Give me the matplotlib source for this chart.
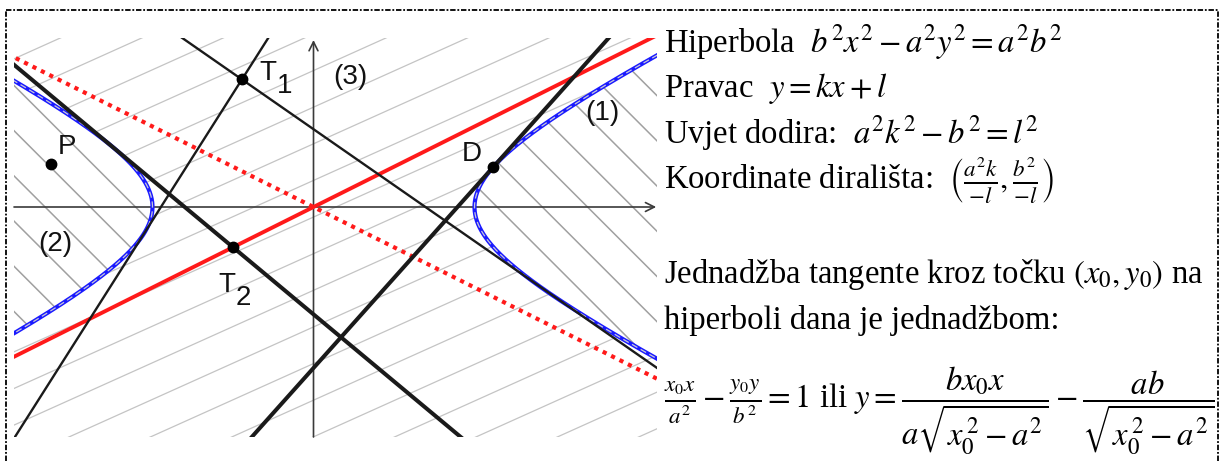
import numpy as np
import matplotlib
matplotlib.use("Agg")
import matplotlib.pyplot as plt
from matplotlib.patches import Polygon
from matplotlib.lines import Line2D

# ---------------- data ----------------
semi_a = 4.0            # hyperbola x^2/a^2 - y^2/b^2 = 1
semi_b = 2.0
asym_slopes = [0.5, -0.5]                  # red solid, red dotted
tangent_k = [-0.8333, 1.118, 1.575, -0.695]  # tangent lines y = kx + l
tangent_l = [-2.6667, -4.0, 5.97, 1.933]
tangent_thick = [True, True, False, False]
point_names = ["P", "T1", "T2", "D"]
point_x = [-6.53, -1.78, -2.0, 4.472]
point_y = [1.06, 3.17, -1.0, 1.0]
region_labels = ["(1)", "(2)", "(3)"]
region_x = [7.17, -6.42, 0.91]
region_y = [2.34, -0.92, 3.23]

W, H = 1224, 461
fig = plt.figure(figsize=(W / 100, H / 100), dpi=100)
plt.rcParams["mathtext.fontset"] = "stix"

# axes placement in pixels
L, R, T, B = 14, 657, 38, 437
ox, oy, s = 313.5, 207.0, 40.25
ax = fig.add_axes([L / W, 1 - B / H, (R - L) / W, (B - T) / H])
ax.set_xlim((L - ox) / s, (R - ox) / s)
ax.set_ylim((oy - B) / s, (oy - T) / s)
ax.set_axis_off()
x0, x1 = ax.get_xlim()
y0, y1 = ax.get_ylim()

# hyperbola branches
t = np.linspace(-3.2, 3.2, 800)
xr = semi_a * np.cosh(t)
yr = semi_b * np.sinh(t)

# clip regions
reg3 = Polygon(np.column_stack([np.r_[xr, -xr[::-1]], np.r_[yr, yr[::-1]]]),
               closed=True, fill=False, lw=0, alpha=0)
reg1 = Polygon(np.column_stack([np.r_[xr, 200, 200], np.r_[yr, 200, -200]]),
               closed=True, fill=False, lw=0, alpha=0)
reg2 = Polygon(np.column_stack([np.r_[-xr, -200, -200], np.r_[yr, 200, -200]]),
               closed=True, fill=False, lw=0, alpha=0)
for p in (reg1, reg2, reg3):
    ax.add_patch(p)

xx = np.array([x0 - 1, x1 + 1])
# "/" hatch in region between branches
for c in np.arange(-20, 20) * 0.91 + 2.48:
    ln, = ax.plot(xx, 0.45 * xx + c, color="#c4c4c4", lw=0.9, zorder=1)
    ln.set_clip_path(reg3)
# "\" hatch inside branches
for c in np.arange(-20, 20) * 1.123 + 0.07:
    for reg in (reg1, reg2):
        ln, = ax.plot(xx, -xx + c, color="#a0a0a0", lw=1.1, zorder=1)
        ln.set_clip_path(reg)

# coordinate axes with arrows
ax.annotate("", xy=(x1 - 0.02, 0), xytext=(x0, 0),
            arrowprops=dict(arrowstyle="->", color="#3a3a3a", lw=1.2,
                            mutation_scale=16, shrinkA=0, shrinkB=0), zorder=2)
ax.annotate("", xy=(0, y1 - 0.05), xytext=(0, y0),
            arrowprops=dict(arrowstyle="->", color="#3a3a3a", lw=1.2,
                            mutation_scale=16, shrinkA=0, shrinkB=0), zorder=2)

# asymptotes
xa = np.array([x0 - 1, x1 + 1])
ax.plot(xa, asym_slopes[0] * xa, color="#ff1a1a", lw=2.8, zorder=3,
        solid_capstyle="butt")
ax.plot(xa, asym_slopes[1] * xa, color="#ff1a1a", lw=3.0, zorder=3,
        linestyle=(0, (1, 1.25)), dash_capstyle="butt")

# hyperbola (blue with light dashed core)
for sgn in (1, -1):
    ax.plot(sgn * xr, yr, color="#1a1aff", lw=3.0, zorder=4)
    ax.plot(sgn * xr, yr, color="#c8c8d8", lw=0.9, zorder=5,
            linestyle=(0, (5, 3)))

# tangent lines
for k, l, thick in zip(tangent_k, tangent_l, tangent_thick):
    ax.plot(xa, k * xa + l, color="#1a1a1a", lw=2.9 if thick else 1.7,
            zorder=6, solid_capstyle="butt")

# points
ax.plot(point_x, point_y, "o", color="black", ms=7.5, zorder=8)

lab_kw = dict(fontsize=20, family="Liberation Sans", color="#111111",
              ha="center", va="center", textcoords="offset points", zorder=9)
ax.annotate("P", (point_x[0], point_y[0]), xytext=(11.5, 12.2), **lab_kw)
ax.annotate("T", (point_x[1], point_y[1]), xytext=(18.9, 4.5), **lab_kw)
ax.annotate("1", (point_x[1], point_y[1]), xytext=(31.0, -5.0), **lab_kw)
ax.annotate("T", (point_x[2], point_y[2]), xytext=(-4.5, -27.1), **lab_kw)
ax.annotate("2", (point_x[2], point_y[2]), xytext=(7.5, -36.5), **lab_kw)
ax.annotate("D", (point_x[3], point_y[3]), xytext=(-16, 8.9), **lab_kw)
for name, rx, ry in zip(region_labels, region_x, region_y):
    ax.text(rx, ry, name, fontsize=20, family="Liberation Sans",
            color="#111111", ha="center", va="center", zorder=9)

# ---------------- right-hand text ----------------
txt_kw = dict(fontsize=23.5, family="Liberation Serif", color="black",
              va="baseline", ha="left")
tx = 664 / W
fig.text(tx, 1 - 52 / H, r"Hiperbola  $b^2x^2-a^2y^2=a^2b^2$", **txt_kw)
fig.text(tx, 1 - 97 / H, r"Pravac  $y=kx+l$", **txt_kw)
fig.text(tx, 1 - 143 / H, r"Uvjet dodira:  $a^2k^2-b^2=l^2$", **txt_kw)
fig.text(tx, 1 - 190 / H,
         r"Koordinate dirališta:  $\left(\frac{a^2k}{-l},\frac{b^2}{-l}\right)$",
         **txt_kw)
fig.text(tx, 1 - 283 / H,
         r"Jednadžba tangente kroz točku $\left(x_0,y_0\right)$ na", **txt_kw)
fig.text(tx, 1 - 329 / H, r"hiperboli dana je jednadžbom:", **txt_kw)
fig.text(tx, 1 - 408 / H,
         r"$\frac{x_0x}{a^2}-\frac{y_0y}{b^2}=1$ ili "
         r"$y=\dfrac{bx_0x}{a\sqrt{x_0^{\,2}-a^2}}-\dfrac{ab}{\sqrt{x_0^{\,2}-a^2}}$",
         **txt_kw)

# dotted frame
frame_kw = dict(color="black", lw=1.3, linestyle=(0, (3, 1, 1, 1)),
                transform=fig.transFigure)
fy = 1 - 10 / H
fig.add_artist(Line2D([6 / W, 1218 / W], [fy, fy], **frame_kw))
fig.add_artist(Line2D([6 / W, 6 / W], [0, fy], **frame_kw))
fig.add_artist(Line2D([1218 / W, 1218 / W], [0, fy], **frame_kw))

fig.savefig("out.png", dpi=100)
